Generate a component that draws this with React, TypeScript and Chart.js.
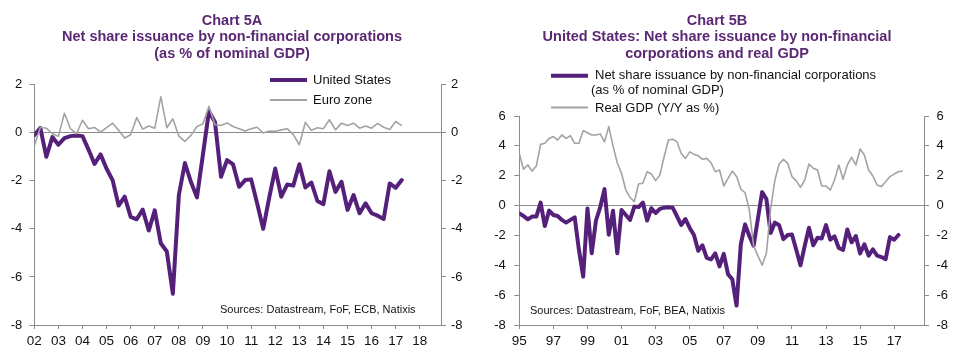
import React, { useEffect, useRef } from 'react';
import { Chart, registerables } from 'chart.js';

Chart.register(...registerables);

// ---------------- DATA ----------------
// Quarterly, US net share issuance by non-financial corporations (% of nominal GDP), 1995Q1 .. 2017Q2
const US_START_YEAR = 1995;
const US_NET_SHARE_ISSUANCE = [
  -0.52, -0.7, -0.92, -0.74,
  -0.74, 0.2, -1.37, -0.34,
  -0.63, -0.7, -0.96, -1.14,
  -0.96, -0.79, -2.97, -4.76,
  -0.2, -3.2, -1.0, -0.1,
  1.1, -1.95, -0.35, -3.2,
  -0.3, -0.63, -0.96, -0.07,
  -0.1, 0.2, -1.0, -0.18,
  -0.5, -0.22, -0.14, -0.11,
  -0.14, -0.7, -1.3, -0.9,
  -1.5, -1.97, -3.03, -2.66,
  -3.5, -3.6, -3.2, -4.07,
  -3.23, -4.6, -4.94, -6.7,
  -2.59, -1.26, -2.04, -2.69,
  -0.9, 0.9, 0.44, -1.83,
  -1.14, -1.32, -2.25, -1.97,
  -1.94, -2.94, -4.0, -2.7,
  -1.49, -2.66, -2.15, -2.2,
  -1.31, -2.28, -2.07, -2.84,
  -2.97, -1.6, -2.46, -2.04,
  -3.21, -2.59, -3.35, -2.94,
  -3.35, -3.45, -3.59, -2.11,
  -2.29, -1.97,
];

// Quarterly, Euro zone net share issuance (% of nominal GDP), 2002Q1 .. 2017Q2
const EZ_START_YEAR = 2002;
const EURO_ZONE_NET_SHARE_ISSUANCE = [
  -0.55, 0.23, 0.19, -0.04,
  -0.15, 0.81, 0.17, -0.04,
  0.52, 0.17, 0.22, 0.03,
  0.21, 0.4, 0.1, -0.22,
  -0.08, 0.63, 0.15, 0.28,
  0.19, 1.5, 0.21, 0.58,
  -0.14, -0.36, -0.11, 0.26,
  0.37, 1.1, 0.33, 0.3,
  0.41, 0.26, 0.17, 0.07,
  0.17, 0.23, -0.01, 0.07,
  0.06, 0.12, 0.17, -0.08,
  -0.5, 0.44, 0.1, 0.21,
  0.17, 0.54, 0.12, 0.4,
  0.3, 0.4, 0.19, 0.28,
  0.19, 0.39, 0.23, 0.14,
  0.47, 0.3,
];

// Quarterly, US real GDP (Y/Y %), 1995Q1 .. 2017Q3
const GDP_START_YEAR = 1995;
const US_REAL_GDP_YOY = [
  3.49, 2.43, 2.72, 2.31,
  2.65, 4.1, 4.17, 4.5,
  4.62, 4.39, 4.73, 4.5,
  4.68, 4.17, 4.17, 5.02,
  4.88, 4.73, 4.73, 4.8,
  4.26, 5.29, 4.0, 2.85,
  2.16, 1.04, 0.55, 0.26,
  1.45, 1.49, 2.27, 2.12,
  1.67, 2.05, 3.27, 4.39,
  4.44, 4.28, 3.5, 3.16,
  3.6, 3.43, 3.34, 3.1,
  3.16, 2.87, 2.27, 2.38,
  1.31, 1.82, 2.31, 1.94,
  1.11, 0.86, -0.3, -2.7,
  -3.35, -4.0, -3.2, -0.2,
  1.71, 2.78, 3.1, 2.83,
  1.94, 1.67, 1.22, 1.71,
  2.78, 2.5, 2.38, 1.31,
  1.31, 1.04, 1.71, 2.72,
  1.76, 2.72, 3.23, 2.72,
  3.79, 3.39, 2.38, 1.98,
  1.38, 1.27, 1.6, 1.94,
  2.11, 2.27, 2.32,
];

// Tick labels
const LEFT_X_TICK_LABELS = ['02', '03', '04', '05', '06', '07', '08', '09', '10', '11', '12', '13', '14', '15', '16', '17', '18'];
const LEFT_X_FIRST_TICK = 2002;
const LEFT_X_TICK_STEP = 1;
const RIGHT_X_TICK_LABELS = ['95', '97', '99', '01', '03', '05', '07', '09', '11', '13', '15', '17'];
const RIGHT_X_FIRST_TICK = 1995;
const RIGHT_X_TICK_STEP = 2;

// ---------------- STYLE ----------------
const PURPLE = '#55207a';
const GRAY_LINE = '#a3a3a3';
const AXIS_GRAY = '#8c8c8c';
const TITLE_PURPLE = '#5b2873';
const TEXT = '#111111';
const FONT = '"Liberation Sans", Arial, Helvetica, sans-serif';

const toPoints = (values: number[], startYear: number) =>
  values.map((v, i) => ({ x: startYear + i / 4, y: v }));

type LegendLine = { text: string; x: number; y: number };
type LegendItem = { color: string; width: number; x1: number; x2: number; y: number; lines: LegendLine[] };
type Overlay = {
  title: string[];
  titleX: number;
  titleY: number;
  legend: LegendItem[];
  source: string;
  sourceX: number;
  sourceY: number;
};

function overlayPlugin(o: Overlay) {
  return {
    id: 'overlayText',
    afterDraw(chart: any) {
      const ctx = chart.ctx as CanvasRenderingContext2D;
      ctx.save();
      ctx.textBaseline = 'middle';
      ctx.textAlign = 'center';
      ctx.fillStyle = TITLE_PURPLE;
      ctx.font = `bold 14.5px ${FONT}`;
      o.title.forEach((t, i) => ctx.fillText(t, o.titleX, o.titleY + i * 16.5));

      ctx.textAlign = 'left';
      ctx.font = `13px ${FONT}`;
      for (const item of o.legend) {
        ctx.strokeStyle = item.color;
        ctx.lineWidth = item.width;
        ctx.lineCap = 'butt';
        ctx.beginPath();
        ctx.moveTo(item.x1, item.y);
        ctx.lineTo(item.x2, item.y);
        ctx.stroke();
        ctx.fillStyle = TEXT;
        item.lines.forEach((l) => ctx.fillText(l.text, l.x, l.y));
      }

      ctx.font = `11px ${FONT}`;
      ctx.fillStyle = TEXT;
      ctx.fillText(o.source, o.sourceX, o.sourceY);
      ctx.restore();
    },
  };
}

type PanelCfg = {
  purple: { label: string; values: number[]; start: number };
  gray: { label: string; values: number[]; start: number };
  xMin: number;
  xMax: number;
  xFirstTick: number;
  xStep: number;
  xLabels: string[];
  yMin: number;
  yMax: number;
  top: number;
  leftW: number;
  rightW: number;
  leftPad: number;
  rightPad: number;
  overlay: Overlay;
};

function buildConfig(p: PanelCfg): any {
  const tickValues = p.xLabels.map((_, i) => p.xFirstTick + i * p.xStep);
  const yTicksFont = { size: 13, family: FONT };
  return {
    type: 'line',
    data: {
      datasets: [
        {
          label: p.gray.label,
          data: toPoints(p.gray.values, p.gray.start),
          borderColor: GRAY_LINE,
          borderWidth: 1.6,
          pointRadius: 0,
          tension: 0,
          borderJoinStyle: 'round',
        },
        {
          label: p.purple.label,
          data: toPoints(p.purple.values, p.purple.start),
          borderColor: PURPLE,
          borderWidth: 4,
          pointRadius: 0,
          tension: 0,
          borderJoinStyle: 'round',
          borderCapStyle: 'round',
        },
      ],
    },
    options: {
      responsive: false,
      animation: false,
      events: [],
      layout: { padding: { top: p.top, left: 0, right: 0, bottom: 0 } },
      plugins: {
        legend: { display: false },
        title: { display: false },
        tooltip: { enabled: false },
      },
      scales: {
        x: {
          type: 'linear',
          min: p.xMin,
          max: p.xMax,
          afterBuildTicks: (s: any) => {
            s.ticks = tickValues.map((v) => ({ value: v }));
          },
          afterFit: (s: any) => {
            s.height = 33;
          },
          ticks: {
            autoSkip: false,
            maxRotation: 0,
            color: TEXT,
            font: { size: 13.5, family: FONT },
            padding: 4,
            callback: (v: number) => {
              const idx = tickValues.findIndex((t) => Math.abs(t - v) < 1e-6);
              return idx >= 0 ? p.xLabels[idx] : '';
            },
          },
          grid: { drawOnChartArea: false, drawTicks: true, tickLength: 4, tickColor: AXIS_GRAY },
          border: { display: true, color: AXIS_GRAY, width: 1 },
        },
        y: {
          position: 'left',
          min: p.yMin,
          max: p.yMax,
          afterFit: (s: any) => {
            s.width = p.leftW;
          },
          ticks: { stepSize: 2, color: TEXT, font: yTicksFont, padding: p.leftPad },
          grid: {
            drawTicks: true,
            tickLength: 5,
            tickColor: AXIS_GRAY,
            color: (c: any) => (c.tick && c.tick.value === 0 ? AXIS_GRAY : 'rgba(0,0,0,0)'),
            lineWidth: 1,
          },
          border: { display: true, color: AXIS_GRAY, width: 1 },
        },
        y2: {
          position: 'right',
          min: p.yMin,
          max: p.yMax,
          afterFit: (s: any) => {
            s.width = p.rightW;
          },
          ticks: { stepSize: 2, color: TEXT, font: yTicksFont, padding: p.rightPad },
          grid: { drawOnChartArea: false, drawTicks: true, tickLength: 5, tickColor: AXIS_GRAY },
          border: { display: true, color: AXIS_GRAY, width: 1 },
        },
      },
    },
    plugins: [overlayPlugin(p.overlay)],
  };
}

const LEFT_PANEL: PanelCfg = {
  purple: {
    label: 'United States',
    values: US_NET_SHARE_ISSUANCE.slice((EZ_START_YEAR - US_START_YEAR) * 4),
    start: EZ_START_YEAR,
  },
  gray: { label: 'Euro zone', values: EURO_ZONE_NET_SHARE_ISSUANCE, start: EZ_START_YEAR },
  xMin: 2002,
  xMax: 2018.88,
  xFirstTick: LEFT_X_FIRST_TICK,
  xStep: LEFT_X_TICK_STEP,
  xLabels: LEFT_X_TICK_LABELS,
  yMin: -8,
  yMax: 2,
  top: 84.7,
  leftW: 34.3,
  rightW: 39,
  leftPad: 7,
  rightPad: 5,
  overlay: {
    title: ['Chart 5A', 'Net share issuance by non-financial corporations', '(as % of nominal GDP)'],
    titleX: 232,
    titleY: 20.5,
    legend: [
      { color: PURPLE, width: 4, x1: 270, x2: 307, y: 80, lines: [{ text: 'United States', x: 313, y: 80 }] },
      { color: GRAY_LINE, width: 2, x1: 270, x2: 307, y: 100, lines: [{ text: 'Euro zone', x: 313, y: 100 }] },
    ],
    source: 'Sources: Datastream, FoF, ECB, Natixis',
    sourceX: 220,
    sourceY: 310,
  },
};

const RIGHT_PANEL: PanelCfg = {
  purple: { label: 'Net share issuance by non-financial corporations (as % of nominal GDP)', values: US_NET_SHARE_ISSUANCE, start: US_START_YEAR },
  gray: { label: 'Real GDP (Y/Y as %)', values: US_REAL_GDP_YOY, start: GDP_START_YEAR },
  xMin: 1995,
  xMax: 2018.75,
  xFirstTick: RIGHT_X_FIRST_TICK,
  xStep: RIGHT_X_TICK_STEP,
  xLabels: RIGHT_X_TICK_LABELS,
  yMin: -8,
  yMax: 6,
  top: 116,
  leftW: 39.3,
  rightW: 36,
  leftPad: 8.5,
  rightPad: 7.5,
  overlay: {
    title: ['Chart 5B', 'United States: Net share issuance by non-financial', 'corporations and real GDP'],
    titleX: 237,
    titleY: 20.5,
    legend: [
      {
        color: PURPLE,
        width: 4,
        x1: 71,
        x2: 108,
        y: 75.7,
        lines: [
          { text: 'Net share issuance by non-financial corporations', x: 115, y: 75.5 },
          { text: '(as % of nominal GDP)', x: 111, y: 90 },
        ],
      },
      { color: GRAY_LINE, width: 2, x1: 71, x2: 108, y: 107.5, lines: [{ text: 'Real GDP (Y/Y as %)', x: 115, y: 108 }] },
    ],
    source: 'Sources: Datastream, FoF, BEA, Natixis',
    sourceX: 50,
    sourceY: 311,
  },
};

function Panel({ cfg, left }: { cfg: PanelCfg; left: number }) {
  const ref = useRef<HTMLCanvasElement | null>(null);
  useEffect(() => {
    if (!ref.current) return;
    const chart = new Chart(ref.current, buildConfig(cfg));
    return () => chart.destroy();
  }, [cfg]);
  return (
    <canvas
      ref={ref}
      width={480}
      height={358}
      style={{ position: 'absolute', left, top: 0, width: 480, height: 358 }}
    />
  );
}

export default function App() {
  useEffect(() => {
    document.body.style.margin = '0';
    document.body.style.background = '#ffffff';
  }, []);
  return (
    <div style={{ position: 'relative', width: 960, height: 358, background: '#ffffff', overflow: 'hidden' }}>
      <Panel cfg={LEFT_PANEL} left={0} />
      <Panel cfg={RIGHT_PANEL} left={480} />
    </div>
  );
}
